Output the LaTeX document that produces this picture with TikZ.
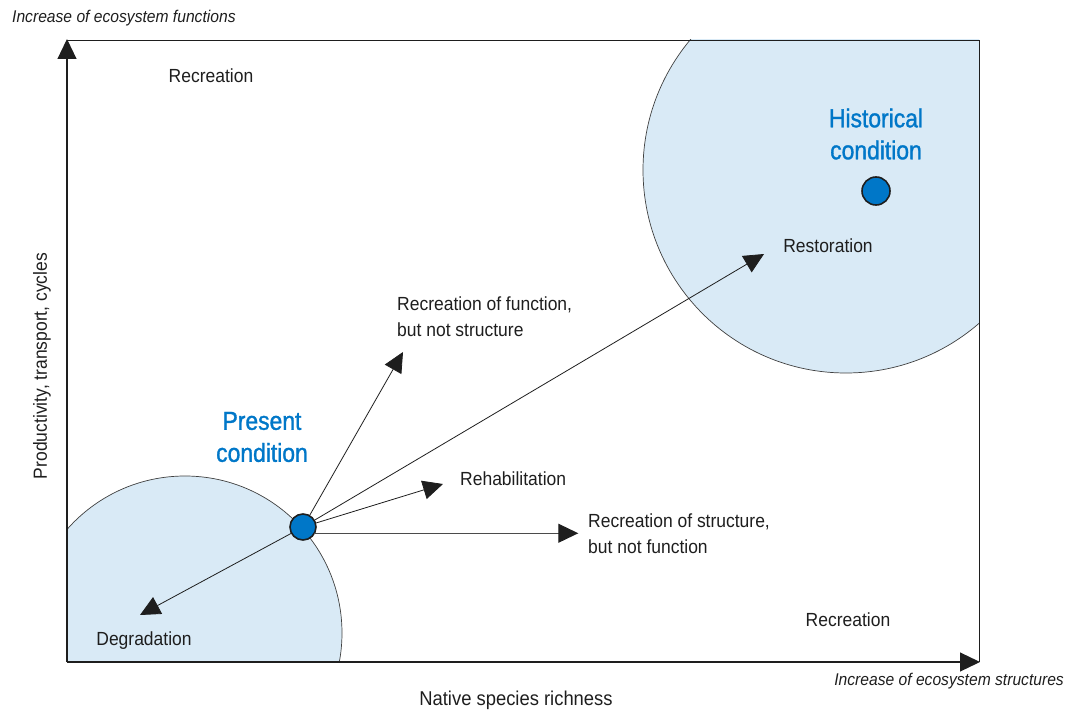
\documentclass[tikz,border=0pt]{standalone}
\usepackage{fontspec}
\setmainfont{Liberation Sans}[FakeStretch=0.92]
\newfontfamily\condfont{Liberation Sans}[FakeStretch=0.88, FakeBold=1.2]
\usetikzlibrary{arrows.meta,positioning}
\definecolor{zone}{HTML}{D9EAF6}
\definecolor{dotblue}{HTML}{0077C8}
\definecolor{ink}{HTML}{1E1E1E}
\tikzset{
  label/.style   = {inner sep=0pt, text=ink, font=\fontsize{19}{26}\selectfont},
  axisnote/.style = {inner sep=0pt, text=ink, font=\fontsize{17}{20}\selectfont\itshape},
  cond/.style    = {inner sep=0pt, text=dotblue, align=center,
                    font=\condfont\fontsize{26}{32}\selectfont},
  state/.style   = {circle, draw=ink, line width=1.6pt, fill=dotblue,
                    minimum size=26pt, inner sep=0pt},
  zoneline/.style = {draw=ink!85, line width=0.7pt, fill=zone}
}

\begin{document}
\begin{tikzpicture}[x=1pt, y=-1pt,
  >={Triangle[length=20pt,width=19pt,color=ink]},
  arr/.style={->, draw=ink, line width=0.8pt, shorten <=-1pt}]
\useasboundingbox (0,0) rectangle (1074,711);

% zones round the two conditions
\begin{scope}
\clip (67,40) rectangle (979,662);
\draw[zoneline] (185,633) circle (157);
\draw[zoneline] (846,170) circle (203);
\end{scope}

% frame and axes
\draw[ink, line width=0.8pt] (67,40) -- (979,40) -- (979,662);
\draw[->, ink, line width=1.2pt] (67,662) -- (67,39);
\draw[->, ink, line width=1.2pt] (67,662) -- (980,662);

% states
\node[state] (pc) at (303,527) {};
\node[state, minimum size=28pt] (hc) at (876,191) {};
\node[cond] (pct) at (262,437) {Present\\condition};
\node[cond] (hct) at (876,134) {Historical\\condition};

% arrow tips
\coordinate (fun) at (403,352);
\coordinate (res) at (764,254);
\coordinate (reh) at (443,484);
\coordinate (deg) at (140,615);

\foreach \t in {fun,res,reh,deg}
  \draw[arr] (pc) -- (\t);
\draw[arr, line width=1pt, draw=ink!80] (pc.-27) -- ++(263,0) coordinate (str);

% labels
\node[label, anchor=base] (rc1) at (211,83) {Recreation};
\node[label, anchor=base] (rc2) at (848,626) {Recreation};
\node[label, anchor=base] (lres) at (828,253) {Restoration};
\node[label, anchor=base west] (lreh) at (460,485) {Rehabilitation};
\node[label, anchor=base] (ldeg) at (144,645) {Degradation};
\node[label, anchor=north west, align=left] (lfun) at (397,297)
  {Recreation of function,\\but not structure};
\node[label, anchor=north west, align=left] (lstr) at (588,514)
  {Recreation of structure,\\but not function};

% axis titles
\node[label, anchor=base, font=\fontsize{20}{24}\selectfont] (xt) at (516,705) {Native species richness};
\node[label, rotate=90] (yt) at (42,366) {Productivity, transport, cycles};
\node[axisnote, anchor=base west] (yn) at (12,23) {Increase of ecosystem functions};
\node[axisnote, anchor=base east] (xn) at (1064,685) {Increase of ecosystem structures};
\end{tikzpicture}
\end{document}
